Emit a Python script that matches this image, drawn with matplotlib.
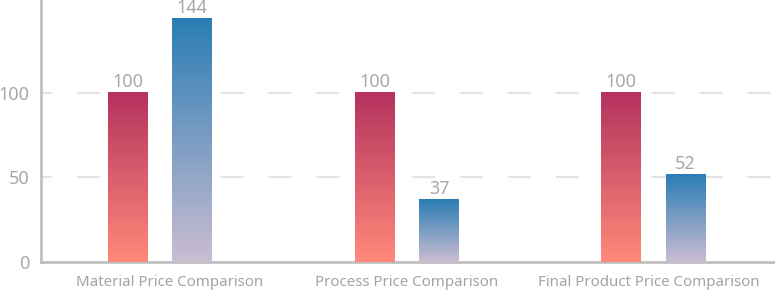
import numpy as np
import matplotlib
matplotlib.use("Agg")
import matplotlib.pyplot as plt
from matplotlib.colors import LinearSegmentedColormap

categories = ["Material Price Comparison", "Process Price Comparison", "Final Product Price Comparison"]
series_a = [100, 100, 100]
series_b = [144, 37, 52]

plt.rcParams['font.family'] = ['Noto Sans', 'DejaVu Sans']

red_cmap = LinearSegmentedColormap.from_list("red", ["#ff8a7a", "#b5325e"])
blue_cmap = LinearSegmentedColormap.from_list("blue", ["#cbbdd2", "#2a7db4"])
grad = np.linspace(0, 1, 256).reshape(-1, 1)

fig = plt.figure(figsize=(7.75, 2.95), dpi=100)
ax = fig.add_axes([41 / 775, 33 / 295, 734 / 775, 262 / 295])

x = np.arange(len(categories))
w = 0.162
off = 0.13
xlim = (-0.484, 2.493)
ylim = (0, 155)
label_shift = np.array([0.039, -0.003, -0.02])

for xs, vals, cmap in [(x - off, series_a, red_cmap), (x + off, series_b, blue_cmap)]:
    for xi, v in zip(xs, vals):
        ax.imshow(grad, cmap=cmap, origin='lower', aspect='auto',
                  extent=[xi - w / 2, xi + w / 2, 0, v], zorder=3)
        ax.annotate(str(v), (xi, v), xytext=(0, 4), textcoords='offset points',
                    ha='center', va='baseline', fontsize=13, color='#a8a8a8')

ax.set_xlim(*xlim)
ax.set_ylim(*ylim)

for y in [50, 100]:
    ax.axhline(y, color='#e2e2e2', lw=1.5, ls=(5.8, (11.0, 12.0)), zorder=1)

ax.set_yticks([0, 50, 100])
ax.set_xticks(x + label_shift)
ax.set_xticklabels(categories)
ax.tick_params(axis='y', length=0, labelsize=13, labelcolor='#a8a8a8', pad=8)
ax.tick_params(axis='x', length=0, labelsize=10.8, labelcolor='#a3a3a3', pad=9)

for s in ['top', 'right']:
    ax.spines[s].set_visible(False)
for s in ['left', 'bottom']:
    ax.spines[s].set_color('#c0c0c0')
    ax.spines[s].set_linewidth(2)

fig.savefig("out.png", dpi=100)
